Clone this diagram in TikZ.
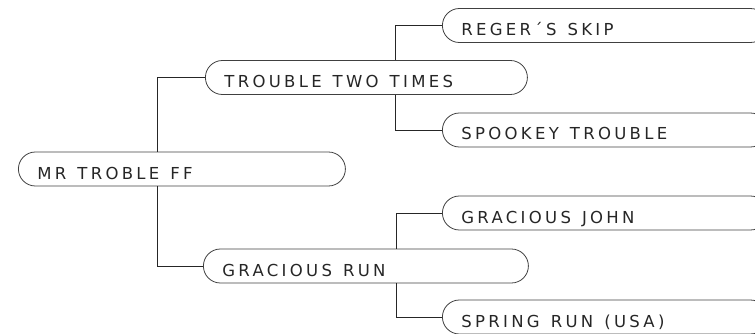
\documentclass[tikz,border=0pt]{standalone}
\usepackage{fontspec}
\setmainfont{DejaVu Sans}[LetterSpace=20]
\newcommand\gap{\hspace{11pt}}
\begin{document}
\begin{tikzpicture}[x=1pt,y=-1pt,
	horse/.style={draw=black!75, line width=0.8pt, rounded corners=17pt,
		minimum height=34pt, anchor=west, text width=#1, align=left,
		inner xsep=19pt, inner ysep=3pt, text height=22pt, text depth=2pt,
		font={\fontsize{16.5}{18}\selectfont}, text=black!85},
	link/.style={draw=black!85, line width=0.8pt}]
	\useasboundingbox (0,0) rectangle (755,334);
	\clip (0,0) rectangle (755,334);
	% Specification of nodes (position, etc.)
	\node (root)		[horse=289pt]	at (18,169)		{MR\gap TROBLE\gap FF};
	\node (trouble)		[horse=284pt]	at (205,77.5)	{TROUBLE\gap TWO\gap TIMES};
	\node (gracious)	[horse=287pt]	at (203,266)	{GRACIOUS\gap RUN};
	\node (reger)		[horse=287pt]	at (442,25.5)	{REGER´S\gap SKIP};
	\node (spookey)		[horse=287pt]	at (442,130)	{SPOOKEY\gap TROUBLE};
	\node (john)		[horse=287pt]	at (442,213)	{GRACIOUS\gap JOHN};
	\node (spring)		[horse=287pt]	at (442,317)	{SPRING\gap RUN\gap (USA)};

	% Specification of lines between nodes specified above
	\draw[link]	([xshift=-25pt]root.north) |- (trouble.west);
	\draw[link]	([xshift=-25pt]root.south) |- (gracious.west);
	\draw[link]	([xshift=29pt]trouble.north) |- (reger.west);
	\draw[link]	([xshift=29pt]trouble.south) |- (spookey.west);
	\draw[link]	([xshift=30pt]gracious.north) |- (john.west);
	\draw[link]	([xshift=30pt]gracious.south) |- (spring.west);
\end{tikzpicture}
\end{document}
